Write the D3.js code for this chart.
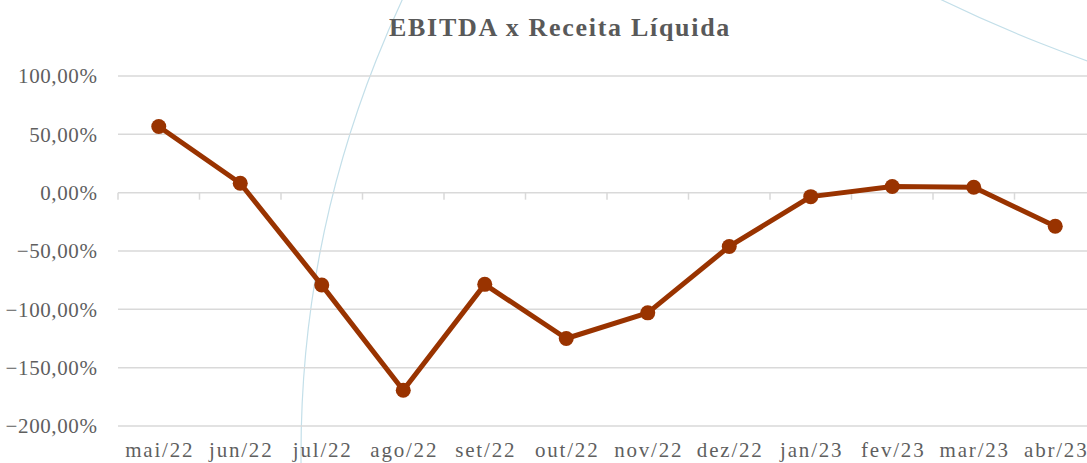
<!DOCTYPE html>
<html>
<head>
<meta charset="utf-8">
<script src="https://cdn.jsdelivr.net/npm/d3@7"></script>
<style>
  html, body { margin: 0; padding: 0; background: #fff; overflow: hidden; }
  svg { display: block; }
</style>
</head>
<body>
<svg id="chart" width="1087" height="463"></svg>
<script>
  var months = ["mai/22", "jun/22", "jul/22", "ago/22", "set/22", "out/22",
                "nov/22", "dez/22", "jan/23", "fev/23", "mar/23", "abr/23"];
  var ebitdaPct = [56.7, 8.1, -79.2, -169.4, -78.6, -125.0,
                   -103.0, -46.1, -3.4, 5.3, 4.6, -28.8];
  var yTicks = [100, 50, 0, -50, -100, -150, -200];

  var svg = d3.select("#chart"),
    margin = { top: 76, right: -9, bottom: 37, left: 118 },
    width = +svg.attr("width") - margin.left - margin.right,
    height = +svg.attr("height") - margin.top - margin.bottom;

  // decorative background arcs
  svg.append("circle")
    .attr("cx", 1370).attr("cy", 454).attr("r", 1069)
    .attr("fill", "none").attr("stroke", "#c3dfe9").attr("stroke-width", 1.2);
  svg.append("circle")
    .attr("cx", 1579).attr("cy", -1317).attr("r", 1463)
    .attr("fill", "none").attr("stroke", "#c3dfe9").attr("stroke-width", 1.2);

  var x = d3.scaleBand().domain(months).range([0, width]).padding(0),
    y = d3.scaleLinear().domain([-200, 100]).range([height, 0]);

  var g = svg.append("g")
    .attr("transform", "translate(" + margin.left + "," + margin.top + ")");

  // gridlines
  g.selectAll(".grid")
    .data(yTicks)
    .enter()
    .append("line")
    .attr("class", "grid")
    .attr("x1", 0).attr("x2", width)
    .attr("y1", function (d) { return y(d); })
    .attr("y2", function (d) { return y(d); })
    .attr("stroke", "#d9d9d9").attr("stroke-width", 1.5);

  // y labels
  g.append("g")
    .call(d3.axisLeft(y).tickValues(yTicks).tickSize(0).tickPadding(20.5)
      .tickFormat(function (d) { return d3.format(".2f")(d).replace(".", ",") + "%"; }))
    .call(function (a) { a.select(".domain").remove(); })
    .selectAll("text")
    .attr("font-family", "'Liberation Serif', serif")
    .attr("font-size", 21)
    .attr("letter-spacing", "0.6px")
    .attr("fill", "#5f5f5f");

  // category ticks along zero line
  g.selectAll(".xtick")
    .data(months)
    .enter()
    .append("line")
    .attr("class", "xtick")
    .attr("x1", function (d) { return x(d); })
    .attr("x2", function (d) { return x(d); })
    .attr("y1", y(0)).attr("y2", y(0) + 7)
    .attr("stroke", "#d9d9d9").attr("stroke-width", 1.5);

  // category labels at the bottom
  g.selectAll(".xlabel")
    .data(months)
    .enter()
    .append("text")
    .attr("class", "xlabel")
    .attr("x", function (d) { return x(d) + x.bandwidth() / 2 + 1; })
    .attr("y", height + 31)
    .attr("text-anchor", "middle")
    .attr("font-family", "'Liberation Serif', serif")
    .attr("font-size", 21)
    .attr("letter-spacing", "1.8px")
    .attr("fill", "#5f5f5f")
    .text(function (d) { return d; });

  var pts = months.map(function (m, i) { return { m: m, v: ebitdaPct[i] }; });

  var line = d3.line()
    .x(function (d) { return x(d.m) + x.bandwidth() / 2; })
    .y(function (d) { return y(d.v); });

  g.append("path")
    .datum(pts)
    .attr("d", line)
    .attr("fill", "none")
    .attr("stroke", "#993300")
    .attr("stroke-width", 5)
    .attr("stroke-linejoin", "round");

  g.selectAll(".dot")
    .data(pts)
    .enter()
    .append("circle")
    .attr("class", "dot")
    .attr("cx", function (d) { return x(d.m) + x.bandwidth() / 2; })
    .attr("cy", function (d) { return y(d.v); })
    .attr("r", 7.5)
    .attr("fill", "#993300");

  svg.append("text")
    .attr("x", 560).attr("y", 36)
    .attr("text-anchor", "middle")
    .attr("font-family", "'Liberation Serif', serif")
    .attr("font-weight", "bold")
    .attr("font-size", 26)
    .attr("letter-spacing", "1.7px")
    .attr("fill", "#595959")
    .text("EBITDA x Receita Líquida");
</script>
</body>
</html>
